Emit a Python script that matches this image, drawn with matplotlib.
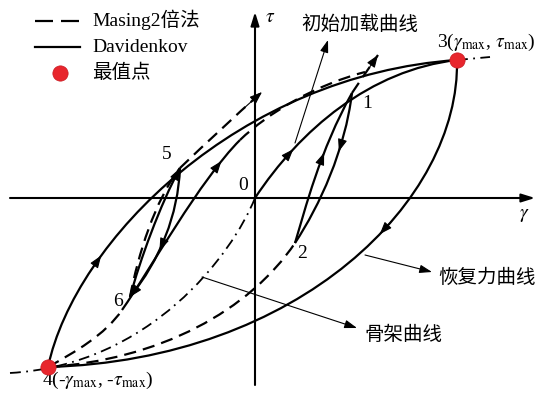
import numpy as np
import matplotlib
matplotlib.use("Agg")
import matplotlib.pyplot as plt
from matplotlib.path import Path
from matplotlib.patches import PathPatch
from matplotlib.bezier import BezierSegment

plt.rcParams['mathtext.fontset'] = 'stix'

# gamma / tau (arbitrary units, origin at 0)
# extreme points 3 and 4
peak_gamma = [202, -207]
peak_tau = [138, -169]

# bezier control points of every curve (gamma, tau)
reload_4_3 = [(-207, -169), (-180, -42), (-15, 123), (202, 138)]
unload_3_4 = [(202, 138), (205, -2), (45, -162), (-207, -169)]
skeleton_neg = [(-245, -175), (-105, -167), (-23, -57), (0, 0)]
skeleton_ext = [(202, 138), (235, 141)]
initial_load = [(0, 0), (45, 68), (115, 128), (202, 138)]

unload_1_2 = [(97, 105), (90, 48), (65, -7), (40, -45)]
reload_2_1 = [(40, -45), (50, -12), (65, 48), (97, 105)]
masing_over_1 = [(97, 105), (105, 117), (114, 130), (123, 143)]
masing_4_2 = [(-207, -169), (-95, -162), (-5, -112), (40, -45)]

unload_5_6 = [(-75, 30), (-77, -17), (-95, -62), (-125, -99)]
reload_6_5 = [(-125, -99), (-115, -62), (-95, -7), (-75, 30)]
masing_6_5 = [(-125, -99), (-117, -57), (-100, -2), (-75, 30)]
masing_over_5 = [(-75, 30), (-50, 54), (-20, 82), (7, 106)]

second_a = [(-207, -169), (-180, -154), (-150, -137), (-133, -112)]
second_b = [(-133, -112), (-105, -72), (-55, 18), (-15, 58)]
second_c = [(-15, 58), (13, 85), (60, 113), (110, 126)]

LW = 1.6
DASH = (0, (5.5, 3.2))
DASHDOT = (0, (6, 3, 1, 3))

fig = plt.figure(figsize=(5.49, 3.93), dpi=100)
ax = fig.add_axes([0, 0, 1, 1])
ax.set_xlim(-255, 294)
ax.set_ylim(-195, 198)
ax.axis('off')


def draw_bez(pts, ls='-', lw=LW):
    v = np.asarray(pts, float)
    codes = [Path.MOVETO] + [Path.CURVE4] * (len(v) - 1)
    ax.add_patch(PathPatch(Path(v, codes), fill=False, lw=lw, ls=ls,
                           ec='k', capstyle='butt'))


def arrow_at(pts, t, dt=0.04):
    seg = BezierSegment(np.asarray(pts, float))
    a = seg.point_at_t(max(t - dt, 0))
    b = seg.point_at_t(t)
    ax.annotate('', xy=b, xytext=a,
                arrowprops=dict(arrowstyle='-|>,head_length=0.75,head_width=0.28',
                                fc='k', ec='k', lw=0.8, shrinkA=0, shrinkB=0,
                                mutation_scale=10))


def pointer(start, tip):
    ax.annotate('', xy=tip, xytext=start,
                arrowprops=dict(arrowstyle='-|>,head_length=0.75,head_width=0.25',
                                fc='k', ec='k', lw=0.8, shrinkA=0, shrinkB=0,
                                mutation_scale=10))


# axes with arrows
ax.annotate('', xy=(280, 0), xytext=(-245, 0),
            arrowprops=dict(arrowstyle='-|>,head_length=0.8,head_width=0.25',
                            fc='k', ec='k', lw=1.5, shrinkA=0, shrinkB=0, mutation_scale=10))
ax.annotate('', xy=(0, 186), xytext=(0, -187),
            arrowprops=dict(arrowstyle='-|>,head_length=0.8,head_width=0.25',
                            fc='k', ec='k', lw=1.5, shrinkA=0, shrinkB=0, mutation_scale=10))

# curves
draw_bez(reload_4_3)
draw_bez(unload_3_4)
draw_bez(skeleton_neg, ls=DASHDOT, lw=1.3)
ax.plot([p[0] for p in skeleton_ext], [p[1] for p in skeleton_ext], color='k', lw=1.3, ls=DASHDOT)
draw_bez(initial_load)
draw_bez(unload_1_2)
draw_bez(reload_2_1)
draw_bez(masing_over_1, ls=DASH)
draw_bez(masing_4_2, ls=DASH)
draw_bez(unload_5_6)
draw_bez(reload_6_5)
draw_bez(masing_6_5, ls=DASH)
draw_bez(masing_over_5, ls=DASH)
draw_bez(second_a, ls=DASH)
draw_bez(second_b)
draw_bez(second_c, ls=DASH)

# direction arrows
arrow_at(reload_4_3, 0.28)
arrow_at(unload_3_4, 0.42)
arrow_at(initial_load, 0.25)
arrow_at(unload_1_2, 0.35)
arrow_at(reload_2_1, 0.65)
arrow_at(masing_over_1, 1.0, 0.3)
arrow_at(unload_5_6, 0.61)
arrow_at(unload_5_6, 1.0, 0.08)
arrow_at(reload_6_5, 1.0, 0.08)
arrow_at(masing_over_5, 1.0, 0.2)
arrow_at(second_b, 0.85)

# extreme points
ax.plot(peak_gamma, peak_tau, 'o', ms=11, color='#e8262d', mec='#c81a22', mew=0.5, zorder=5)

serif = ['Liberation Serif', 'Noto Sans CJK SC']
cjk = ['Noto Sans CJK SC']
fs = 14

ax.text(15, 181, r'$\tau$', fontsize=fs, ha='center', va='center')
ax.text(269, -17, r'$\gamma$', fontsize=fs, ha='center', va='center')
ax.text(-12, 12, '0', family=serif, fontsize=fs, ha='center', va='center')
ax.text(112, 95, '1', family=serif, fontsize=fs, ha='center', va='center')
ax.text(47, -55, '2', family=serif, fontsize=fs, ha='center', va='center')
ax.text(-88, 43, '5', family=serif, fontsize=fs, ha='center', va='center')
ax.text(-137, -104, '6', family=serif, fontsize=fs, ha='center', va='center')
ax.text(231, 156, r'3($\gamma_{\rm max}$, $\tau_{\rm max}$)', family=serif, fontsize=fs,
        ha='center', va='center')
ax.text(-157, -193, r'4(-$\gamma_{\rm max}$, -$\tau_{\rm max}$)', family=serif, fontsize=fs,
        ha='center', va='bottom')

# annotations
ax.text(105, 174, '初始加载曲线', family=cjk, fontsize=14, ha='center', va='center')
pointer((40, 55), (73, 158))
ax.text(232, -79, '恢复力曲线', family=cjk, fontsize=14, ha='center', va='center')
pointer((110, -57), (177, -74))
ax.text(148, -137, '骨架曲线', family=cjk, fontsize=14, ha='center', va='center')
pointer((-53, -79), (102, -130))

# legend drawn by hand
ax.plot([-220, -175], [177, 177], color='k', lw=1.6, ls=(0, (8.1, 3.6)))
ax.plot([-220, -175], [151, 151], color='k', lw=1.6)
ax.plot([-195], [125], 'o', ms=11, color='#e8262d', mec='#c81a22', mew=0.5)
ax.text(-163, 178, 'Masing2倍法', family=serif, fontsize=fs, ha='left', va='center')
ax.text(-163, 150, 'Davidenkov', family=serif, fontsize=fs, ha='left', va='center')
ax.text(-163, 125, '最值点', family=cjk, fontsize=14, ha='left', va='center')

fig.savefig('out.png', dpi=100, facecolor='white')
